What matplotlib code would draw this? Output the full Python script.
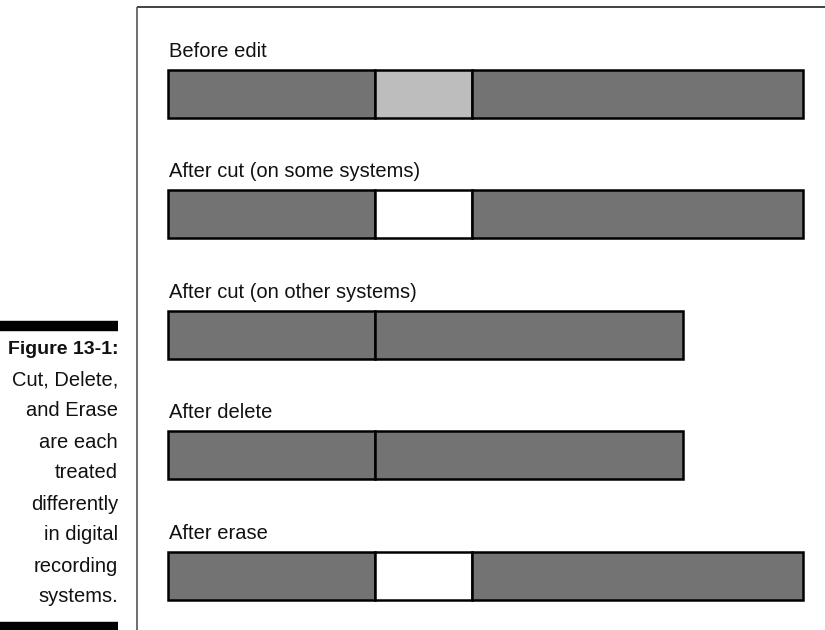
import matplotlib.pyplot as plt

# rows of the diagram: label, segment widths (track units), segment kinds
labels = [
    "Before edit",
    "After cut (on some systems)",
    "After cut (on other systems)",
    "After delete",
    "After erase",
]
segments = [
    [207, 97, 331],
    [207, 97, 331],
    [207, 308],
    [207, 308],
    [207, 97, 331],
]
kinds = [
    ["audio", "selected", "audio"],
    ["audio", "gap", "audio"],
    ["audio", "audio"],
    ["audio", "audio"],
    ["audio", "gap", "audio"],
]
caption_title = "Figure 13-1:"
caption_lines = ["Cut, Delete,", "and Erase", "are each", "treated",
                 "differently", "in digital", "recording", "systems."]

colors = {"audio": "#737373", "selected": "#bdbdbd", "gap": "#ffffff"}

plt.rcParams['font.family'] = ['Liberation Sans', 'DejaVu Sans']

fig = plt.figure(figsize=(8.25, 6.3), dpi=100)
ax = fig.add_axes([0, 0, 1, 1])
ax.set_xlim(0, 825)
ax.set_ylim(630, 0)
ax.axis('off')

# frame around the diagram
ax.plot([137, 825], [7, 7], color='#222222', lw=1.2, solid_capstyle='butt')
ax.plot([137, 137], [7, 630], color='#555555', lw=1.2, solid_capstyle='butt')

x0 = 168
row_top = [70, 190, 311, 431, 552]
bar_h = 48
for label, widths, ks, top in zip(labels, segments, kinds, row_top):
    left = x0
    for w, k in zip(widths, ks):
        ax.barh(top + bar_h / 2, w, left=left, height=bar_h,
                color=colors[k], edgecolor='black', linewidth=1.8)
        left += w
    ax.text(x0 + 1, top - 13, label, fontsize=14.5, va='baseline', ha='left',
            color='#111111')

# caption at the left
ax.plot([0, 118], [326, 326], color='black', lw=7.5, solid_capstyle='butt')
ax.plot([0, 118], [627, 627], color='black', lw=7.5, solid_capstyle='butt')
ax.text(118, 349, caption_title, fontsize=14, fontweight='bold',
        ha='right', va='center', color='#111111')
for i, line in enumerate(caption_lines):
    ax.text(118, 380 + i * 31, line, fontsize=14.5, ha='right', va='center',
            color='#111111')

fig.savefig('out.png', dpi=100)
